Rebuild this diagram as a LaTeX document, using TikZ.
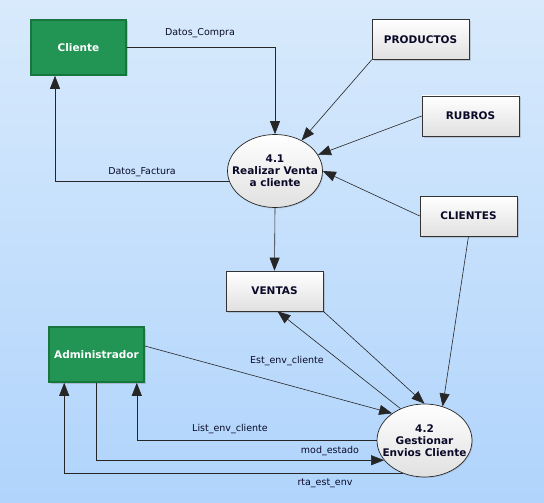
\documentclass[tikz,border=0pt]{standalone}
\usepackage{fontspec}
\setmainfont{DejaVu Sans}
\usetikzlibrary{arrows.meta,shapes.geometric,shadows}
\definecolor{bgtop}{RGB}{216,234,252}
\definecolor{bgbot}{RGB}{176,212,252}
\definecolor{extfill}{RGB}{34,148,84}
\definecolor{extdraw}{RGB}{22,118,62}
\definecolor{txtdark}{RGB}{10,10,40}
\tikzset{
  ext/.style={draw=extdraw, line width=1.6pt, fill=extfill, minimum width=95pt, minimum height=55pt,
    text=white, font=\fontsize{10.5}{12}\selectfont\bfseries, inner sep=0pt,
    drop shadow={shadow xshift=1.5pt, shadow yshift=-1.5pt, opacity=0.35}},
  store/.style={draw=black!80, line width=0.6pt, top color=white, bottom color=black!12,
    minimum width=97pt, minimum height=40pt, text=txtdark, font=\fontsize{10.5}{12}\selectfont\bfseries, inner sep=0pt,
    drop shadow={shadow xshift=1.5pt, shadow yshift=-1.5pt, opacity=0.3}},
  proc/.style={ellipse, draw=black!85, line width=0.7pt, top color=white, bottom color=black!12,
    minimum width=95pt, minimum height=73pt, inner sep=-25pt, text=txtdark, align=center,
    font=\fontsize{10.5}{12}\selectfont\bfseries,
    drop shadow={shadow xshift=1pt, shadow yshift=-1pt, opacity=0.25}},
  flow/.style={draw=black!85, line width=0.6pt, -{Triangle[length=13pt,width=10pt]}},
  lbl/.style={font=\fontsize{9.5}{11}\selectfont, text=txtdark, inner sep=1pt},
}
\begin{document}
\begin{tikzpicture}[x=1pt,y=-1pt]
\shade[top color=bgtop, bottom color=bgbot] (0,0) rectangle (544,503);
\useasboundingbox (0,0) rectangle (544,503);

\node[ext] (cli) at (78.5,47.5) {Cliente};
\node[ext] (adm) at (96.5,354.5) {Administrador};
\node[store] (prod) at (420.5,39.5) {PRODUCTOS};
\node[store] (rub) at (470.5,116) {RUBROS};
\node[store] (clis) at (468.5,216) {CLIENTES};
\node[store] (ven) at (274.5,291) {VENTAS};
\node[proc] (p41) at (275,171) {4.1\\Realizar Venta\\a cliente};
\node[proc] (p42) at (424.5,440.5) {4.2\\Gestionar\\Envios Cliente};

\draw[flow] (cli.east) -| (p41.north);
\draw[flow] (p41.193) -| ([xshift=-23.5pt]cli.south);
\draw[flow] (prod.south west) -- (p41);
\draw[flow] (rub.west) -- (p41);
\draw[flow] (clis.west) -- (p41.east);
\draw[flow] (clis.south) -- (p42.62);
\draw[flow] (p41.south) -- (ven.north);
\draw[flow] (ven.south east) -- (p42.north);
\draw[flow] (p42.127) -- ([xshift=3pt]ven.south);
\draw[flow] (adm.10) -- (p42.140);
\draw[flow] (p42.west) -| ([xshift=-8pt]adm.south east);
\draw[flow] (adm.south) |- (p42.206);
\draw[flow] (p42.237) -| ([xshift=16pt]adm.south west);

\node[lbl] (l1) at (200,33) {Datos\_Compra};
\node[lbl] (l2) at (142,172) {Datos\_Factura};
\node[lbl] (l3) at (287,361) {Est\_env\_cliente};
\node[lbl] (l4) at (230,429) {List\_env\_cliente};
\node[lbl] (l5) at (330,451) {mod\_estado};
\node[lbl] (l6) at (325,483) {rta\_est\_env};
\end{tikzpicture}
\end{document}
